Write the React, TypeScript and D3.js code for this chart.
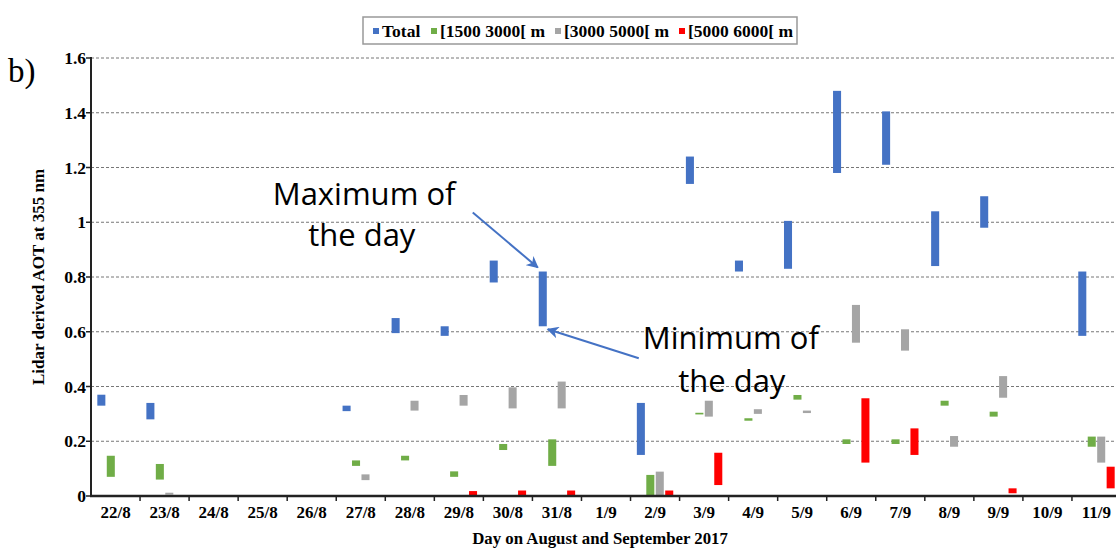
import React from "react"
import * as d3 from "d3"

// days on the x axis
const days = ["22/8", "23/8", "24/8", "25/8", "26/8", "27/8", "28/8", "29/8", "30/8", "31/8", "1/9",
  "2/9", "3/9", "4/9", "5/9", "6/9", "7/9", "8/9", "9/9", "10/9", "11/9"]

const yTicks = [0, 0.2, 0.4, 0.6, 0.8, 1, 1.2, 1.4, 1.6]

// [min, max] of the day, null = no measurement
type Range = [number, number] | null

const total: Range[] = [[0.33, 0.37], [0.28, 0.34], null, null, null, [0.31, 0.33], [0.595, 0.65], [0.585, 0.62],
  [0.78, 0.86], [0.62, 0.82], null, [0.15, 0.34], [1.14, 1.24], [0.82, 0.86], [0.83, 1.005], [1.18, 1.48],
  [1.21, 1.405], [0.84, 1.04], [0.98, 1.095], null, [0.585, 0.82]]

const low: Range[] = [[0.07, 0.147], [0.06, 0.117], null, null, null, [0.11, 0.13], [0.13, 0.147], [0.07, 0.09],
  [0.168, 0.19], [0.11, 0.207], null, [0, 0.077], [0.298, 0.304], [0.275, 0.284], [0.352, 0.369], [0.19, 0.207],
  [0.19, 0.207], [0.33, 0.348], [0.29, 0.308], null, [0.18, 0.217]]

const mid: Range[] = [null, [0.005, 0.012], null, null, null, [0.058, 0.079], [0.312, 0.348], [0.33, 0.369],
  [0.32, 0.397], [0.32, 0.418], null, [0, 0.089], [0.29, 0.348], [0.3, 0.317], [0.303, 0.312], [0.56, 0.698],
  [0.531, 0.609], [0.18, 0.219], [0.359, 0.438], null, [0.122, 0.217]]

const high: Range[] = [null, null, null, null, null, null, null, [0, 0.018],
  [0, 0.02], [0, 0.02], null, [0, 0.02], [0.04, 0.158], null, null, [0.122, 0.357],
  [0.15, 0.247], null, [0.01, 0.028], null, [0.028, 0.107]]

const seriesNames = ["Total", "[1500 3000[ m", "[3000 5000[ m", "[5000 6000[ m"]
const seriesData = [total, low, mid, high]
const colors = ["#4472C4", "#70AD47", "#A5A5A5", "#FF0000"]

const serif = "'Liberation Serif', 'Times New Roman', serif"
const sans = "'Open Sans', Lato, sans-serif"

export default function App() {
  const W = 1116, H = 548
  const left = 91, right = 1121, top = 58, bottom = 496

  const x0 = d3.scaleBand().domain(days).range([left, right]).paddingInner(0.2).paddingOuter(0.1)
  const x1 = d3.scaleBand().domain(seriesNames).range([0, x0.bandwidth()]).padding(0.15)
  const y = d3.scaleLinear().domain([0, 1.6]).range([bottom, top])
  const step = x0.step()

  const bars: JSX.Element[] = []
  seriesData.forEach((s, si) => {
    s.forEach((r, i) => {
      if (!r) return
      const bx = x0(days[i])! + x1(seriesNames[si])!
      const h = Math.max(1.5, y(r[0]) - y(r[1]))
      bars.push(<rect key={si + "-" + i} x={bx} y={y(r[1])} width={x1.bandwidth()} height={h} fill={colors[si]} />)
    })
  })

  // annotation anchors on the 31/8 total bar
  const annDay = "31/8"
  const ax = x0(annDay)! + x1("Total")! + x1.bandwidth() / 2
  const maxAt = total[days.indexOf(annDay)]![1]
  const minAt = total[days.indexOf(annDay)]![0]

  const legendX = [373, 431, 555, 679]

  return (
    <svg width={W} height={H} style={{ position: "absolute", left: 0, top: 0, background: "#fff" }}>
      <defs>
        <marker id="arr" viewBox="0 0 10 10" refX="9" refY="5" markerWidth="6" markerHeight="6" orient="auto-start-reverse">
          <path d="M0,0 L10,5 L0,10 L3,5 z" fill="#4472C4" />
        </marker>
      </defs>

      {/* legend */}
      <rect x={363} y={17} width={434} height={27} fill="#fff" stroke="#999" strokeWidth={1.5} />
      {seriesNames.map((n, i) => (
        <g key={n}>
          <rect x={legendX[i]} y={28} width={6} height={6} fill={colors[i]} />
          <text x={legendX[i] + 9} y={37} fontFamily={serif} fontWeight="bold" fontSize={17.5}>{n}</text>
        </g>
      ))}

      <text x={8} y={82} fontFamily={serif} fontSize={33}>b)</text>

      {/* grid */}
      {yTicks.filter(t => t > 0).map(t => (
        <line key={t} x1={left} x2={right} y1={y(t)} y2={y(t)} stroke="#777" strokeWidth={1} strokeDasharray="3,2" />
      ))}

      {bars}

      {/* axes */}
      <line x1={left} x2={left} y1={top - 1} y2={bottom} stroke="#222" strokeWidth={2} />
      <line x1={left - 1} x2={right} y1={bottom} y2={bottom} stroke="#222" strokeWidth={2.5} />
      {yTicks.map(t => (
        <g key={t}>
          <line x1={left - 5} x2={left} y1={y(t)} y2={y(t)} stroke="#222" strokeWidth={1.5} />
          <text x={left - 5} y={y(t)} dy="0.35em" textAnchor="end" fontFamily={serif} fontWeight="bold" fontSize={17.5}>
            {t === 0 || t === 1 ? String(t) : t.toFixed(1)}
          </text>
        </g>
      ))}
      {days.map((d, i) => (
        <g key={d}>
          <line x1={left + i * step + step} x2={left + i * step + step} y1={bottom} y2={bottom + 5} stroke="#222" strokeWidth={1.5} />
          <text x={x0(d)! + x0.bandwidth() / 2} y={518} textAnchor="middle" fontFamily={serif} fontWeight="bold" fontSize={17}>{d}</text>
        </g>
      ))}

      <text transform="translate(44,277) rotate(-90)" textAnchor="middle"
        fontFamily={serif} fontWeight="bold" fontSize={17}>Lidar derived AOT at 355 nm</text>
      <text x={600} y={544} textAnchor="middle" fontFamily={serif} fontWeight="bold" fontSize={16.8}>Day on August and September 2017</text>

      {/* annotations */}
      <text x={ax - 270} y={y(maxAt) - 67} fontFamily={sans} fontSize={31}>Maximum of</text>
      <text x={ax - 181} y={y(maxAt) - 26} textAnchor="middle" fontFamily={sans} fontSize={31}>the day</text>
      <line x1={ax - 70} y1={y(maxAt) - 59} x2={ax - 5} y2={y(maxAt) - 4} stroke="#4472C4" strokeWidth={2} markerEnd="url(#arr)" />

      <text x={ax + 100} y={y(minAt) + 23} fontFamily={sans} fontSize={31}>Minimum of</text>
      <text x={ax + 189} y={y(minAt) + 66} textAnchor="middle" fontFamily={sans} fontSize={31}>the day</text>
      <line x1={ax + 96} y1={y(minAt) + 32} x2={ax + 5} y2={y(minAt) + 3} stroke="#4472C4" strokeWidth={2} markerEnd="url(#arr)" />
    </svg>
  )
}
